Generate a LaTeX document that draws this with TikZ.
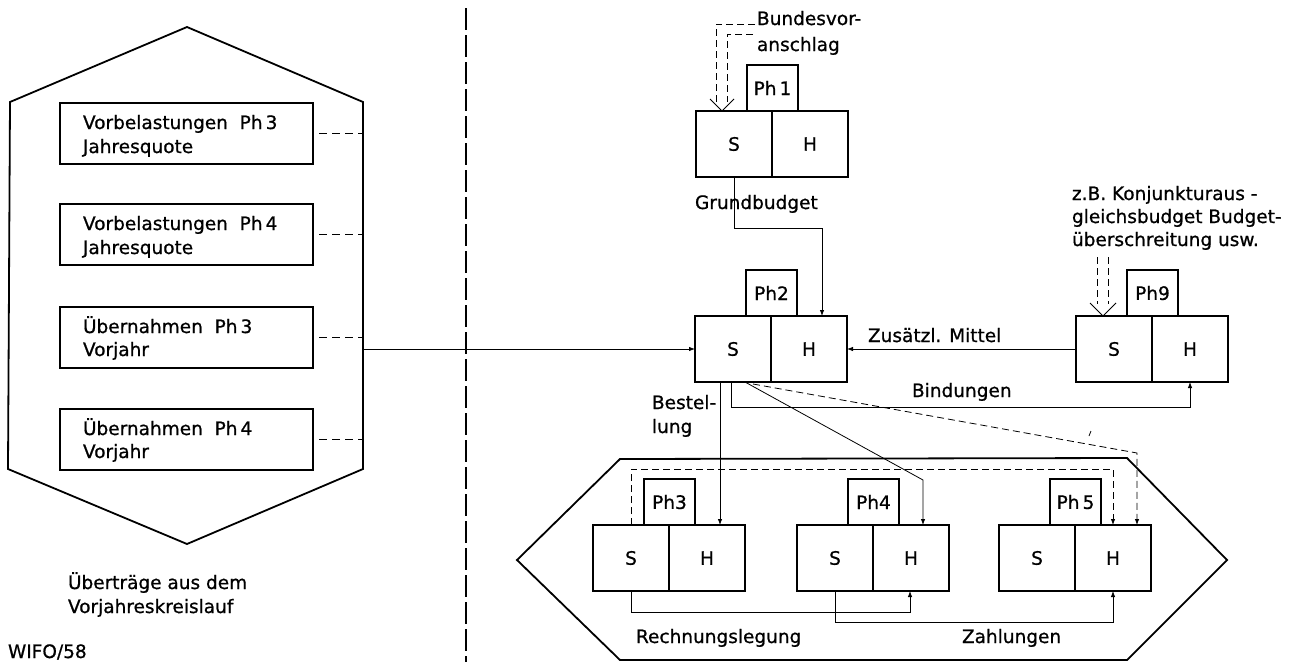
\documentclass[tikz,border=0pt]{standalone}
\usepackage{fontspec}
\setmainfont{DejaVu Sans}[FakeBold=0.8]
\usetikzlibrary{calc,arrows.meta}
\newcommand\lblfont{\fontsize{18.5}{22}\selectfont}
\newcommand\konto[4]{%
  \node[half,anchor=north west] (#1s) at (#2,#3) {S};
  \node[half,anchor=north west] (#1h) at (#1s.north east) {H};
  \node[tabbox,anchor=south west] (#1t) at ($(#1s.north west)+(51,0)$) {#4};
}
\begin{document}
\begin{tikzpicture}[x=1pt,y=-1pt,
  every node/.style={font=\lblfont,inner sep=0pt,outer sep=0pt},
  half/.style={draw,line width=1.8pt,minimum width=76pt,minimum height=66pt},
  tabbox/.style={draw,line width=1.5pt,minimum width=51pt,minimum height=46pt},
  lbox/.style={draw,line width=1.8pt,minimum width=253pt,minimum height=61pt},
  txt/.style={anchor=base west},
  hex/.style={line width=1.8pt,line join=miter},
  conn/.style={line width=0.8pt},
  arr/.style={conn,-{Latex[length=6pt,width=4.5pt]}},
  dsh/.style={conn,dash pattern=on 7pt off 4pt},
  dsharr/.style={dsh,-{Latex[length=6pt,width=4.5pt]}}]
\useasboundingbox (0,0) rectangle (1304,662);

% ---------- left part ----------
\draw[hex] (187,27) -- (363,102) -- (363,469) -- (187,544) -- (8,469) -- (10,102) -- cycle;
\coordinate (hexR) at (363,0);
\coordinate (hexout) at (363,349);

\node[lbox,anchor=north west] (b1) at (60,103) {};
\node[lbox,anchor=north west] (b2) at (60,204) {};
\node[lbox,anchor=north west] (b3) at (60,307) {};
\node[lbox,anchor=north west] (b4) at (60,409) {};

\node[txt] (b1a) at (83,129) {Vorbelastungen\ \ Ph\,3};
\node[txt] (b1b) at (83,153) {Jahresquote};
\node[txt] (b2a) at (83,230) {Vorbelastungen\ \ Ph\,4};
\node[txt] (b2b) at (83,254) {Jahresquote};
\node[txt] (b3a) at (83,333) {Übernahmen\ \ Ph\,3};
\node[txt] (b3b) at (83,356) {Vorjahr};
\node[txt] (b4a) at (83,435) {Übernahmen\ \ Ph\,4};
\node[txt] (b4b) at (83,458) {Vorjahr};

\foreach \b in {b1,b2,b3,b4}
  \draw[dsh,dash pattern=on 8pt off 5pt] ($(\b.east)+(6,0)$) -- (\b.east -| hexR);

\node[txt] (ue1) at (68,589) {Überträge aus dem};
\node[txt] (ue2) at (68,613) {Vorjahreskreislauf};
\node[txt] (wifo) at (8,658) {WIFO/58};

% divider
\draw[line width=2pt,dash pattern=on 22pt off 5pt] (466,8) -- (466,662);

% ---------- accounts ----------
\konto{pa}{696}{111}{Ph\,1}
\konto{pb}{695}{316}{Ph2}
\konto{pn}{1076}{316}{Ph9}
\konto{pc}{593}{525}{Ph3}
\konto{pd}{797}{525}{Ph4}
\konto{pe}{999}{525}{Ph\,5}

% bottom hexagon
\draw[hex] (517,560) -- (620,459) -- (1127,458) -- (1227,560) -- (1127,660) -- (620,660) -- cycle;

% Bundesvoranschlag
\node[txt] (bv1) at (757,25) {Bundesvor-};
\node[txt] (bv2) at (757,51) {anschlag};
\coordinate (bvin) at ($(pas.north west)+(26,0)$);
\draw[dsh] (bv1.base west) ++(-2,-1) -- (716,24) -- (716,102);
\draw[dsh] (bv1.base west) ++(-4,9) -- (727,34) -- (727,102);
\draw[conn] (710,99) -- (bvin) -- (734,99);

% Grundbudget
\node[txt] (gb) at (695,209) {Grundbudget};
\coordinate (cg) at (822,228);
\draw[arr] (pas.south) |- (cg) -- (cg |- pbh.north);

% from left
\draw[arr] (hexout) -- (pbs.west);

% Zusaetzl. Mittel
\node[txt] (zm) at (868,342) {Zusätzl. Mittel};
\draw[arr] (pns.west) -- (pbh.east);

% z.B.
\node[txt] (zb1) at (1072,200) {z.B. Konjunkturaus -};
\node[txt] (zb2) at (1072,223) {gleichsbudget Budget-};
\node[txt] (zb3) at (1072,246) {überschreitung usw.};
\coordinate (pnin) at ($(pns.north west)+(27,0)$);
\draw[dsh] (1097,257) -- (1097,304);
\draw[dsh] (1108,257) -- (1108,304);
\draw[conn] (1090,303) -- (pnin) -- (1116,303);

% Bindungen
\node[txt] (bind) at (912,397) {Bindungen};
\coordinate (cbind) at (1190,407);
\draw[arr] ($(pbs.south)+(-2,0)$) |- (cbind) -- (pnh.south);

% Bestellung
\node[txt] (bs1) at (652,409) {Bestel-};
\node[txt] (bs2) at (652,433) {lung};
\coordinate (bst) at (720,382);
\draw[arr] (bst) -- (bst |- pch.north);

% solid diagonal
\coordinate (sd0) at (745,382);
\coordinate (sd1) at (923,480);
\draw[arr] (sd0) -- (sd1) -- (sd1 |- pdh.north);

% dashed diagonal
\coordinate (dd0) at (753,384);
\coordinate (dd1) at (1137,453);
\draw[dsharr] (dd0) -- (dd1) -- (dd1 |- peh.north);
\draw[conn] (1089,436) -- (1091,431);

% dashed rectangle
\coordinate (dr1) at (1113,469);
\draw[dsharr] (pcs.north) |- (dr1) -- (peh.north);

% Rechnungslegung
\node[txt] (rl) at (636,643) {Rechnungslegung};
\coordinate (crl) at (910,612);
\draw[arr] (pcs.south) |- (crl) -- (crl |- pdh.south);

% Zahlungen
\node[txt] (zl) at (962,643) {Zahlungen};
\coordinate (czl) at (1113,622);
\draw[arr] (pds.south) |- (czl) -- (peh.south);
\end{tikzpicture}
\end{document}
